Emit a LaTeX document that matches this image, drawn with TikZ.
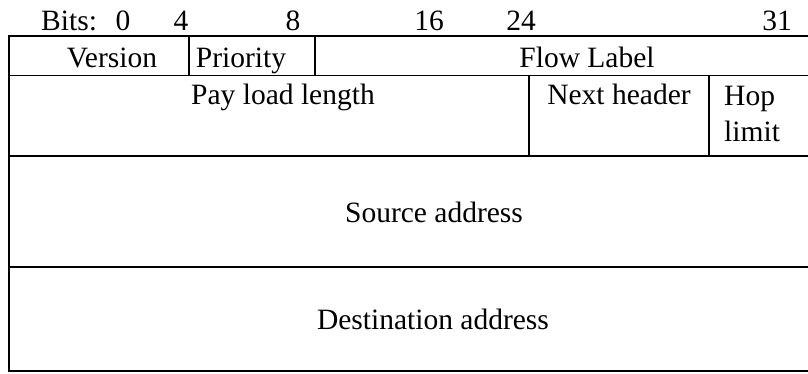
\documentclass[tikz,border=0pt]{standalone}
\usepackage{fontspec}
\setmainfont{Liberation Serif}
\tikzset{
  pix/.style={x=1pt, y=-1pt},
  rule/.style={black, line width=1.8pt},
  fld/.style={anchor=base, inner sep=0pt, font=\fontsize{29.5}{32}\selectfont},
  fldw/.style={fld, anchor=base west},
}

\begin{document}
\begin{tikzpicture}[pix]
  \useasboundingbox (0,0) rectangle (808,373);
  % bit positions
  \node[fldw] (bits) at (41,30) {Bits:};
  \foreach \b/\x in {0/123,4/181,8/293,16/429,24/521,31/777}
    \node[fld] (b\b) at (\x,30) {\b};
  % frame and row rules
  \draw[rule] (860,36) -- (9,36) -- (9,371) -- (860,371);
  \foreach \y in {75.5,156,267}
    \draw[rule] (9,\y) -- (860,\y);
  \draw[rule] (189,36) -- (189,75.5);
  \draw[rule] (315,36) -- (315,75.5);
  \draw[rule] (529,75.5) -- (529,156);
  \draw[rule] (709,75.5) -- (709,156);
  % fields
  \node[fld] (ver) at (112,67) {Version};
  \node[fld] (prio) at (241,67) {Priority};
  \node[fld] (flow) at (587,67) {Flow Label};
  \node[fld] (plen) at (283,104) {Pay load length};
  \node[fld] (next) at (619,104) {Next header};
  \node[fldw] (hop) at (724,105) {Hop};
  \node[fldw] (lim) at (724,141) {limit};
  \node[fld] (src) at (434,222) {Source address};
  \node[fld] (dst) at (433,329) {Destination address};
\end{tikzpicture}
\end{document}
